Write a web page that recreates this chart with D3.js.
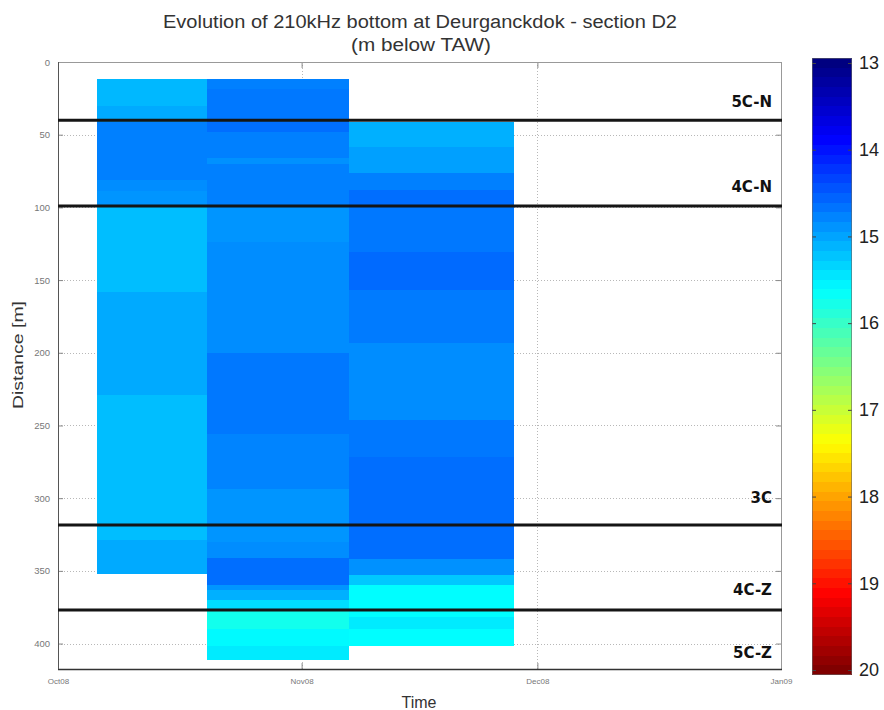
<!DOCTYPE html>
<html>
<head>
<meta charset="utf-8"/>
<title>Deurganckdok D2</title>
<script src="https://cdn.jsdelivr.net/npm/d3@7"></script>
<style>
html, body {
    margin: 0;
    padding: 0;
    background: #fff;
}
text {
    font-family: "Liberation Sans", Arial, sans-serif;
}
</style>
</head>
<body>
<svg id="chart" width="884" height="710"></svg>

<script>

// Survey periods (cell edges in time).
var surveyStart = ["2008-10-06", "2008-10-20", "2008-11-07"];
var surveyEnd   = ["2008-10-20", "2008-11-07", "2008-11-28"];

// Distance edges [m] and bottom level [m below TAW] per survey.
var survey1Edges = [12, 30, 41, 81, 89, 98.4, 158, 229, 329, 352];
var survey1Depth = [15.14, 15.04, 14.75, 14.84, 14.90, 15.18, 15.04, 15.18, 15.04];

var survey2Edges = [12, 18.6, 41, 48, 66, 70.5, 98.4, 124, 200, 256, 294, 330, 341, 360, 363, 370, 377, 390, 402, 411];
var survey2Depth = [14.75, 14.70, 14.63, 14.75, 14.87, 14.75, 14.90, 14.84, 14.70, 14.78, 14.90, 14.84, 14.63, 14.90, 15.08, 15.39, 15.75, 15.59, 15.49];

var survey3Edges = [41, 58.8, 76.6, 88, 98.4, 130.4, 156.8, 193, 246, 271.6, 341.6, 353, 360, 381.7, 389.7, 402];
var survey3Depth = [15.08, 14.97, 14.75, 14.63, 14.70, 14.60, 14.72, 14.84, 14.70, 14.63, 14.87, 15.25, 15.62, 15.49, 15.62];

// Zone boundaries and their labels.
var zoneLines  = [40, 99, 318.5, 377];
var zoneLabels = ["5C-N", "4C-N", "3C", "4C-Z", "5C-Z"];
var labelDist  = [31, 89.5, 303, 366.5, 410];

// Axis ticks.
var timeTicks  = ["2008-10-01", "2008-11-01", "2008-12-01", "2009-01-01"];
var timeLabels = ["Oct08", "Nov08", "Dec08", "Jan09"];
var distTicks  = [0, 50, 100, 150, 200, 250, 300, 350, 400];
var colorTicks = [13, 14, 15, 16, 17, 18, 19, 20];

var parse = d3.utcParse("%Y-%m-%d");

// Matlab-like jet colormap.
function jet(t) {
    var c = function(v) { return Math.max(0, Math.min(1, v)); };
    var r = c(Math.min(4 * t - 1.5, -4 * t + 4.5));
    var g = c(Math.min(4 * t - 0.5, -4 * t + 3.5));
    var b = c(Math.min(4 * t + 0.5, -4 * t + 2.5));
    return d3.rgb(r * 255, g * 255, b * 255).toString();
}

var svg = d3.select("#chart");

// Plot area.
var pLeft = 58, pRight = 781, pTop = 62, pBottom = 669;

var x = d3.scaleUtc()
    .domain([parse(timeTicks[0]), parse(timeTicks[3])])
    .range([pLeft, pRight]);
var y = d3.scaleLinear()
    .domain([0, 417.5])
    .range([pTop, pBottom]);
var color = d3.scaleSequential(jet).domain([13, 20]);

// Grid (dotted), drawn under the cells.
var grid = svg.append("g");
grid.selectAll(".gy")
    .data(distTicks.slice(1))
    .enter().append("line")
    .attr("x1", pLeft).attr("x2", pRight)
    .attr("y1", d => Math.round(y(d)) + 0.5).attr("y2", d => Math.round(y(d)) + 0.5)
    .attr("stroke", "#b8b8b8")
    .attr("stroke-width", 1)
    .attr("stroke-dasharray", "1,2");
grid.selectAll(".gx")
    .data(timeTicks.slice(1, 3))
    .enter().append("line")
    .attr("x1", d => Math.round(x(parse(d))) + 0.5).attr("x2", d => Math.round(x(parse(d))) + 0.5)
    .attr("y1", pTop).attr("y2", pBottom)
    .attr("stroke", "#b8b8b8")
    .attr("stroke-width", 1)
    .attr("stroke-dasharray", "1,2");

// Cells.
var surveys = [
    {edges: survey1Edges, depth: survey1Depth},
    {edges: survey2Edges, depth: survey2Depth},
    {edges: survey3Edges, depth: survey3Depth}
];
surveys.forEach(function(s, i) {
    var x0 = x(parse(surveyStart[i]));
    var x1 = x(parse(surveyEnd[i]));
    svg.append("g")
        .selectAll("rect")
        .data(s.depth)
        .enter().append("rect")
        .attr("x", x0)
        .attr("width", x1 - x0)
        .attr("y", (d, j) => y(s.edges[j]))
        .attr("height", (d, j) => y(s.edges[j + 1]) - y(s.edges[j]))
        .attr("fill", d => color(d))
        .attr("shape-rendering", "crispEdges");
});

// Axes box with inward ticks.
var yAxis = d3.axisLeft(y)
    .tickValues(distTicks)
    .tickFormat(d3.format("d"))
    .tickSize(-5)
    .tickPadding(8);
var gy = svg.append("g")
    .attr("transform", "translate(" + pLeft + ",0)")
    .call(yAxis);
gy.select(".domain").remove();
gy.selectAll("line").attr("stroke", "#888");
gy.selectAll("text")
    .attr("fill", "#777")
    .style("font-size", "9.5px");

var yAxisR = d3.axisRight(y)
    .tickValues(distTicks)
    .tickSize(-5)
    .tickFormat("");
var gyr = svg.append("g")
    .attr("transform", "translate(" + pRight + ",0)")
    .call(yAxisR);
gyr.select(".domain").remove();
gyr.selectAll("line").attr("stroke", "#888");

var xAxis = d3.axisBottom(x)
    .tickValues(timeTicks.map(parse))
    .tickFormat((d, i) => timeLabels[i])
    .tickSize(-6)
    .tickPadding(9);
var gx = svg.append("g")
    .attr("transform", "translate(0," + pBottom + ")")
    .call(xAxis);
gx.select(".domain").remove();
gx.selectAll("line").attr("stroke", "#888");
gx.selectAll("text")
    .attr("fill", "#777")
    .style("font-size", "8px");

var xAxisT = d3.axisTop(x)
    .tickValues(timeTicks.map(parse))
    .tickSize(-6)
    .tickFormat("");
var gxt = svg.append("g")
    .attr("transform", "translate(0," + pTop + ")")
    .call(xAxisT);
gxt.select(".domain").remove();
gxt.selectAll("line").attr("stroke", "#888");

svg.append("rect")
    .attr("x", pLeft + 0.5).attr("y", pTop + 0.5)
    .attr("width", pRight - pLeft).attr("height", pBottom - pTop)
    .attr("fill", "none")
    .attr("stroke", "#999")
    .attr("stroke-width", 1);
svg.append("line")
    .attr("x1", pLeft).attr("x2", pRight + 1)
    .attr("y1", pBottom + 0.5).attr("y2", pBottom + 0.5)
    .attr("stroke", "#333")
    .attr("stroke-width", 1.5);
svg.append("line")
    .attr("x1", pLeft + 0.5).attr("x2", pLeft + 0.5)
    .attr("y1", pTop).attr("y2", pBottom)
    .attr("stroke", "#555")
    .attr("stroke-width", 1);

// Zone boundary lines.
svg.append("g")
    .selectAll("line")
    .data(zoneLines)
    .enter().append("line")
    .attr("x1", pLeft).attr("x2", pRight + 1)
    .attr("y1", d => y(d)).attr("y2", d => y(d))
    .attr("stroke", "#151515")
    .attr("stroke-width", 3);

svg.append("g")
    .selectAll("text")
    .data(zoneLabels)
    .enter().append("text")
    .attr("x", 772)
    .attr("y", (d, i) => y(labelDist[i]))
    .attr("text-anchor", "end")
    .attr("fill", "#111")
    .style("font-family", "'DejaVu Sans', sans-serif")
    .style("font-size", "15px")
    .style("font-weight", "bold")
    .text(d => d);

// Titles.
svg.append("text")
    .attr("x", 420).attr("y", 28)
    .attr("text-anchor", "middle")
    .attr("fill", "#333")
    .attr("textLength", 514)
    .attr("lengthAdjust", "spacingAndGlyphs")
    .style("font-size", "18px")
    .text("Evolution of 210kHz bottom at Deurganckdok - section D2");
svg.append("text")
    .attr("x", 421).attr("y", 51)
    .attr("text-anchor", "middle")
    .attr("fill", "#333")
    .attr("textLength", 140)
    .attr("lengthAdjust", "spacingAndGlyphs")
    .style("font-size", "18px")
    .text("(m below TAW)");

svg.append("text")
    .attr("x", 419).attr("y", 708)
    .attr("text-anchor", "middle")
    .attr("fill", "#333")
    .style("font-size", "16px")
    .text("Time");

svg.append("text")
    .attr("transform", "translate(23,355) rotate(-90)")
    .attr("text-anchor", "middle")
    .attr("fill", "#333")
    .attr("textLength", 108)
    .attr("lengthAdjust", "spacingAndGlyphs")
    .style("font-size", "15px")
    .text("Distance [m]");

// Colorbar (64 bands like Matlab's jet), band centres span the tick range.
var cbLeft = 812, cbWidth = 40;
var nBands = 64;
var cy = d3.scaleLinear().domain([13, 20]).range([63, 670]);
var bandStep = 7 / (nBands - 1);
var bands = d3.range(nBands).map(i => 13 + i * bandStep);
svg.append("g")
    .selectAll("rect")
    .data(bands)
    .enter().append("rect")
    .attr("x", cbLeft)
    .attr("width", cbWidth)
    .attr("y", d => cy(d - bandStep / 2))
    .attr("height", cy(13 + bandStep) - cy(13) + 0.5)
    .attr("fill", d => color(d))
    .attr("shape-rendering", "crispEdges");

var cbAxis = d3.axisRight(cy)
    .tickValues(colorTicks)
    .tickFormat(d3.format("d"))
    .tickSize(-4)
    .tickPadding(7);
var gcb = svg.append("g")
    .attr("transform", "translate(" + (cbLeft + cbWidth) + ",0)")
    .call(cbAxis);
gcb.select(".domain").remove();
gcb.selectAll("line").attr("stroke", "#444");
gcb.selectAll("text")
    .attr("fill", "#222")
    .style("font-size", "18px");

var gcbl = svg.append("g")
    .attr("transform", "translate(" + cbLeft + ",0)")
    .call(d3.axisLeft(cy).tickValues(colorTicks).tickSize(-4).tickFormat(""));
gcbl.select(".domain").remove();
gcbl.selectAll("line").attr("stroke", "#444");

svg.append("rect")
    .attr("x", cbLeft + 0.5).attr("y", cy(13 - bandStep / 2) + 0.5)
    .attr("width", cbWidth - 1).attr("height", cy(20 + bandStep / 2) - cy(13 - bandStep / 2) - 1)
    .attr("fill", "none")
    .attr("stroke", "#666")
    .attr("stroke-width", 0.6);

</script>
</body>
</html>
